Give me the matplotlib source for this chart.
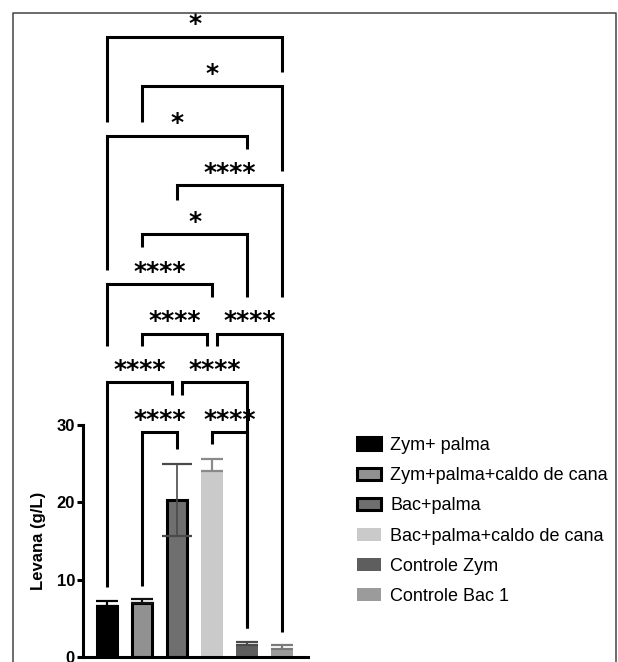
import matplotlib
matplotlib.use("Agg")
import matplotlib.pyplot as plt
from matplotlib.lines import Line2D

groups = ["Zym+ palma", "Zym+palma+caldo de cana", "Bac+palma",
          "Bac+palma+caldo de cana", "Controle Zym", "Controle Bac 1"]
means = [6.6, 6.98, 20.3, 24.05, 1.55, 1.03]
sd = [0.68, 0.52, 4.7, 1.55, 0.39, 0.52]
fills = ["#000000", "#919191", "#6f6f6f", "#cacaca", "#5e5e5e", "#9b9b9b"]
edged = [True, True, True, False, False, False]
err_colors = ["#000000", "#111111", "#4a4a4a", "#8a8a8a", "#4a4a4a", "#7a7a7a"]
two_sided = [False, False, True, False, False, False]

# (bar a, bar b, label, bracket height, left leg end, right leg end)
comparisons = [
    (0, 5, "*", 80.2, 69.2, 75.6),
    (1, 5, "*", 73.8, 69.2, 62.8),
    (0, 4, "*", 67.4, 50.1, 65.7),
    (2, 5, "****", 61.0, 59.1, 46.5),
    (1, 4, "*", 54.7, 53.0, 46.5),
    (0, 3, "****", 48.2, 40.2, 46.5),
    (1, 3, "****", 41.8, 40.2, 40.2),
    (3, 5, "****", 41.8, 40.2, 3.2),
    (0, 2, "****", 35.5, 9.1, 33.9),
    (2, 4, "****", 35.5, 33.9, 3.8),
    (1, 2, "****", 29.1, 9.2, 26.9),
    (3, 4, "****", 29.1, 27.5, 3.8),
]

W, H = 618, 662
fig = plt.figure(figsize=(W / 100, H / 100), dpi=100)
plt.rcParams["font.family"] = ["Liberation Sans", "DejaVu Sans"]

ax = fig.add_axes([83 / W, 5 / H, 225 / W, 645 / H])
ax.set_xlim(-0.69, 5.74)
ax.set_ylim(0, 83.4)

x = list(range(len(groups)))
handles = []
for i in x:
    if edged[i]:
        b = ax.bar(i, means[i], width=0.57, color=fills[i], edgecolor="black",
                   linewidth=2.2, label=groups[i], zorder=2)
    else:
        b = ax.bar(i, means[i], width=0.65, color=fills[i], linewidth=0,
                   label=groups[i], zorder=2)
    handles.append(b)
    lo = sd[i] if two_sided[i] else 0
    ax.errorbar(i, means[i], yerr=[[lo], [sd[i]]], fmt="none",
                ecolor=err_colors[i], elinewidth=1.6 if i != 2 else 1.2,
                capsize=11 if i == 2 else 8, capthick=1.6, zorder=3)

# brackets
nudge = 0.14
for k, (a, b, lab, h, la, lb) in enumerate(comparisons):
    xa, xb = float(a), float(b)
    for j, other in enumerate(comparisons):
        if j == k or other[3] != h:
            continue
        if other[0] == b:
            xb -= nudge
        if other[1] == a:
            xa += nudge
    ax.plot([xa, xa, xb, xb], [la, h, h, lb], color="black", lw=2.2,
            clip_on=False, solid_joinstyle="miter", solid_capstyle="butt")
    ax.text((xa + xb) / 2, h + 0.05, lab, ha="center", va="bottom",
            fontsize=18, fontweight="bold", family="DejaVu Sans")

for s in ["top", "right"]:
    ax.spines[s].set_visible(False)
ax.spines["left"].set_linewidth(2.2)
ax.spines["bottom"].set_linewidth(2.2)
ax.spines["left"].set_bounds(0, 30)
ax.set_xticks([])
ax.set_yticks([0, 10, 20, 30])
ax.tick_params(axis="y", length=4.3, width=2.2, pad=1.5, labelsize=12)
for t in ax.get_yticklabels():
    t.set_fontweight("bold")
ax.set_ylabel("Levana (g/L)", fontsize=12, fontweight="bold")
ax.yaxis.set_label_coords(-0.165, 15 / 83.4)

fig.legend(handles=handles, labels=groups, loc="upper left",
           bbox_to_anchor=(357 / W, 1 - 437 / H), frameon=False,
           fontsize=13, handlelength=1.33, handleheight=0.7,
           handletextpad=0.5, labelspacing=0.73, borderpad=0,
           borderaxespad=0)

# outer frame
fx0, fx1, fy1 = 12.5 / W, 616 / W, 1 - 12.5 / H
fig.add_artist(Line2D([fx0, fx0, fx1, fx1], [0, fy1, fy1, 0],
                      transform=fig.transFigure, color="#444444", lw=1.1))

fig.savefig("out.png", dpi=100)
